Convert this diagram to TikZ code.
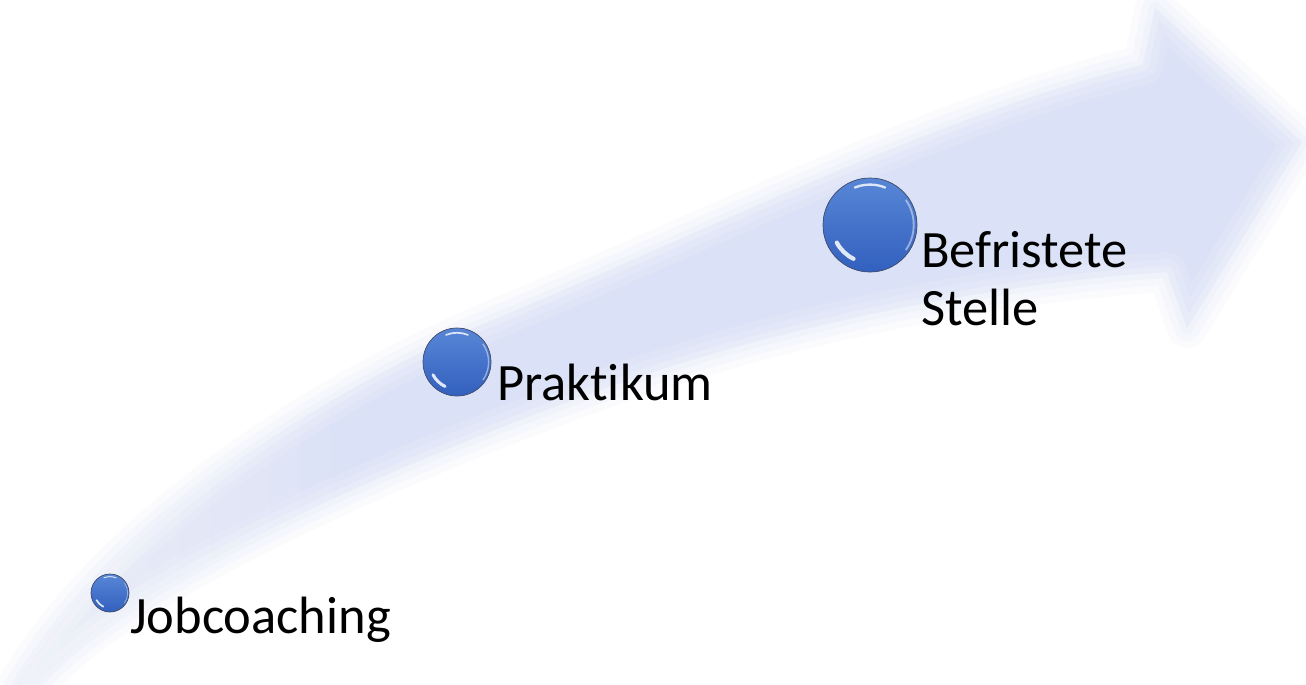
\documentclass[tikz,border=0pt]{standalone}
\usepackage{fontspec}
\setmainfont{Carlito}[Ligatures=NoCommon]
\definecolor{arrowc}{RGB}{219,225,246}
\definecolor{ballTop}{RGB}{88,134,214}
\definecolor{ballBot}{RGB}{50,96,190}
\definecolor{ballEdge}{RGB}{70,80,112}
\newcommand\arrowpath{(15,690) .. controls (100,540) and (300,400) .. (500,317) .. controls (700,234) and (950,110) .. (1143,65) -- (1155,8) -- (1302,142) -- (1187,328) -- (1167,272) .. controls (1000,282) and (780,325) .. (600,390) .. controls (420,455) and (120,580) .. (30,690) -- cycle}
\newcommand\gball[2]{%
  \begin{scope}[shift={(#1)}]
    \fill[top color=ballTop, bottom color=ballBot] (0,0) circle (#2pt);
    \draw[ballEdge, line width=0.7pt] (0,0) circle (#2pt);
    \draw[white, opacity=0.8, line width={0.05*#2 pt}, line cap=round] (112:{0.86*#2 pt}) arc (112:68:{0.86*#2 pt});
    \draw[white, opacity=0.85, line width={0.09*#2 pt}, line cap=round] (208:{0.8*#2 pt}) arc (208:244:{0.8*#2 pt});
    \draw[white, opacity=0.45, line width={0.04*#2 pt}] (-35:{0.93*#2 pt}) arc (-35:35:{0.93*#2 pt});
  \end{scope}}
\tikzset{
  lbl/.style={inner sep=0pt, anchor=base west, align=left, font=\fontsize{52.5}{58}\selectfont, text=black},
  halo/.style={line join=round, line width=#1}
}
\begin{document}
\begin{tikzpicture}[x=1pt, y=-1pt]
\useasboundingbox (0,0) rectangle (1306,685);
\begin{scope}
  \clip (0,0) rectangle (1306,685);
  \draw[arrowc, opacity=0.12, halo=40pt] \arrowpath;
  \draw[arrowc, opacity=0.15, halo=26pt] \arrowpath;
  \draw[arrowc, opacity=0.2, halo=12pt] \arrowpath;
  \fill[arrowc] \arrowpath;
  \begin{scope}
    \clip \arrowpath;
    \draw[white, opacity=0.12, halo=40pt] \arrowpath;
    \draw[white, opacity=0.15, halo=26pt] \arrowpath;
    \draw[white, opacity=0.2, halo=12pt] \arrowpath;
    \foreach \xx in {60,90,...,330}
      \fill[white, opacity=0.07] (0,0) rectangle (\xx,700);
  \end{scope}
\end{scope}
\coordinate (s1) at (110,593);
\coordinate (s2) at (457,362);
\coordinate (s3) at (870,225);
\gball{s1}{19}
\gball{s2}{34}
\gball{s3}{47}
\node[lbl] (t1) at (130,633) {Jobcoaching};
\node[lbl] (t2) at (497,400) {Praktikum};
\node[lbl] (t3) at (921,325) {Befristete\\Stelle};
\end{tikzpicture}
\end{document}
